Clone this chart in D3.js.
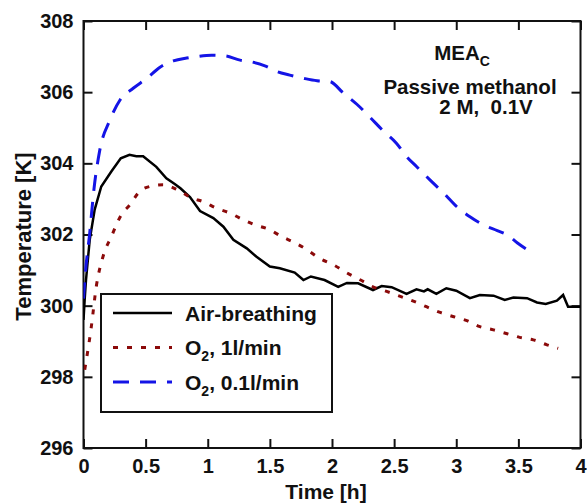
<!DOCTYPE html>
<html>
<head>
<meta charset="utf-8">
<script src="https://cdn.jsdelivr.net/npm/d3@7"></script>
<style>
  body { margin: 0; background: #fff; }
  svg text { font-family: "Liberation Sans", Arial, sans-serif; font-weight: bold; fill: #111; }
</style>
</head>
<body>
<div id="chart-area"></div>
<script>
const xTicks = [0, 0.5, 1, 1.5, 2, 2.5, 3, 3.5, 4];
const xTickLabels = ['0', '0.5', '1', '1.5', '2', '2.5', '3', '3.5', '4'];
const yTicks = [296, 298, 300, 302, 304, 306, 308];

const airTime = [0, 0.01, 0.02, 0.05, 0.09, 0.143, 0.224, 0.30, 0.37, 0.425, 0.48, 0.586, 0.667, 0.734, 0.78, 0.857, 0.938, 1.045, 1.126, 1.206, 1.314, 1.39, 1.50, 1.58, 1.70, 1.77, 1.83, 1.94, 2.05, 2.12, 2.21, 2.33, 2.40, 2.48, 2.60, 2.68, 2.74, 2.77, 2.84, 2.92, 3.00, 3.11, 3.19, 3.30, 3.39, 3.46, 3.57, 3.65, 3.72, 3.81, 3.86, 3.90, 4.00];
const airTemp = [299.6, 300.2, 300.72, 301.85, 302.7, 303.35, 303.77, 304.14, 304.24, 304.2, 304.2, 303.9, 303.58, 303.42, 303.3, 303.05, 302.66, 302.46, 302.22, 301.85, 301.61, 301.38, 301.1, 301.05, 300.93, 300.72, 300.82, 300.72, 300.53, 300.64, 300.63, 300.44, 300.55, 300.52, 300.33, 300.46, 300.40, 300.46, 300.33, 300.49, 300.42, 300.21, 300.30, 300.28, 300.16, 300.23, 300.21, 300.09, 300.05, 300.14, 300.30, 299.97, 299.97];

const o2HighTime = [0.01, 0.063, 0.103, 0.157, 0.224, 0.304, 0.372, 0.452, 0.533, 0.64, 0.76, 0.868, 0.965, 1.07, 1.18, 1.287, 1.38, 1.488, 1.596, 1.70, 1.80, 1.90, 2.01, 2.12, 2.23, 2.33, 2.44, 2.55, 2.66, 2.76, 2.87, 2.98, 3.085, 3.19, 3.30, 3.41, 3.51, 3.62, 3.73, 3.82];
const o2HighTemp = [298.2, 299.41, 300.54, 301.38, 301.94, 302.55, 302.83, 303.21, 303.35, 303.4, 303.25, 303.03, 302.92, 302.74, 302.6, 302.41, 302.27, 302.15, 301.94, 301.77, 301.57, 301.33, 301.15, 300.92, 300.72, 300.53, 300.4, 300.26, 300.12, 299.97, 299.81, 299.69, 299.58, 299.41, 299.32, 299.21, 299.11, 299.04, 298.9, 298.8];

const o2LowTime = [0, 0.015, 0.05, 0.085, 0.13, 0.213, 0.294, 0.40, 0.51, 0.616, 0.723, 0.83, 0.91, 1.03, 1.14, 1.26, 1.34, 1.46, 1.556, 1.66, 1.77, 1.88, 1.98, 2.09, 2.20, 2.31, 2.41, 2.52, 2.60, 2.68, 2.79, 2.90, 3.005, 3.11, 3.22, 3.33, 3.41, 3.49, 3.595];
const o2LowTemp = [300.2, 300.91, 302.04, 303.3, 304.35, 305.22, 305.78, 306.11, 306.39, 306.7, 306.88, 306.96, 307.0, 307.04, 307.02, 306.9, 306.86, 306.74, 306.58, 306.48, 306.39, 306.32, 306.3, 305.98, 305.66, 305.28, 304.92, 304.56, 304.19, 303.91, 303.53, 303.16, 302.78, 302.5, 302.27, 302.11, 301.99, 301.77, 301.52];

const chartSize = { width: 587, height: 504 };
const margin = { left: 83.5, right: 6.5, top: 21, bottom: 56 };
const width = chartSize.width - margin.left - margin.right;
const height = chartSize.height - margin.top - margin.bottom;

const series = [
  { name: 'air', time: airTime, temp: airTemp, color: '#000', dash: null, width: 2.5, curve: d3.curveLinear },
  { name: 'o2high', time: o2HighTime, temp: o2HighTemp, color: '#8b0a0a', dash: '5,9', width: 3, curve: d3.curveMonotoneX },
  { name: 'o2low', time: o2LowTime, temp: o2LowTemp, color: '#1414e6', dash: '16,11', width: 3, curve: d3.curveMonotoneX }
];

const svg = d3.select('#chart-area').append('svg')
  .attr('width', chartSize.width)
  .attr('height', chartSize.height);

const g = svg.append('g')
  .attr('transform', `translate(${margin.left},${margin.top})`);

const x = d3.scaleLinear().domain([0, 4]).range([0, width]);
const y = d3.scaleLinear().domain([296, 308]).range([height, 0]);

const styleAxis = sel => {
  sel.select('.domain').remove();
  sel.selectAll('.tick line').attr('stroke', '#111').attr('stroke-width', 2);
  sel.selectAll('.tick text').style('font-size', '20px');
};

g.append('g')
  .attr('transform', `translate(0,${height})`)
  .call(d3.axisBottom(x).tickValues(xTicks).tickFormat((d, i) => xTickLabels[i]).tickSizeInner(-9).tickSizeOuter(0).tickPadding(11))
  .call(styleAxis);

g.append('g')
  .call(d3.axisTop(x).tickValues(xTicks).tickFormat('').tickSizeInner(-9).tickSizeOuter(0))
  .call(styleAxis);

g.append('g')
  .call(d3.axisLeft(y).tickValues(yTicks).tickFormat(d3.format('d')).tickSizeInner(-9).tickSizeOuter(0).tickPadding(10))
  .call(styleAxis);

g.append('g')
  .attr('transform', `translate(${width},0)`)
  .call(d3.axisRight(y).tickValues(yTicks).tickFormat('').tickSizeInner(-9).tickSizeOuter(0))
  .call(styleAxis);

g.append('rect')
  .attr('width', width)
  .attr('height', height)
  .attr('fill', 'none')
  .attr('stroke', '#111')
  .attr('stroke-width', 2);

g.append('clipPath').attr('id', 'plot-clip')
  .append('rect').attr('width', width).attr('height', height);

series.forEach(s => {
  const line = d3.line().curve(s.curve).x(t => x(t)).y((t, i) => y(s.temp[i]));
  g.append('path')
    .attr('class', s.name)
    .attr('clip-path', 'url(#plot-clip)')
    .attr('d', line(s.time))
    .attr('fill', 'none')
    .attr('stroke', s.color)
    .attr('stroke-width', s.width)
    .attr('stroke-dasharray', s.dash);
});

// axis titles
g.append('text')
  .attr('x', width / 2 - 6)
  .attr('y', height + 51)
  .attr('text-anchor', 'middle')
  .style('font-size', '21px')
  .text('Time [h]');

g.append('text')
  .attr('transform', `translate(${31 - margin.left},${height / 2 + 2}) rotate(-90)`)
  .attr('text-anchor', 'middle')
  .style('font-size', '22px')
  .text('Temperature [K]');

// annotation: one multi-line text block
const note = g.append('text')
  .attr('class', 'note')
  .attr('text-anchor', 'middle')
  .attr('xml:space', 'preserve')
  .style('font-size', '20.5px');
note.append('tspan').attr('x', 462 - margin.left).attr('y', 60 - margin.top).text('MEA');
note.append('tspan').attr('dy', 6).style('font-size', '14px').text('C');
note.append('tspan').attr('x', 470 - margin.left).attr('y', 94 - margin.top).text('Passive methanol');
note.append('tspan').attr('x', 486 - margin.left).attr('y', 113.5 - margin.top).text('2 M,  0.1V');

// legend
const legend = g.append('g')
  .attr('transform', `translate(${101 - margin.left},${294 - margin.top})`);

legend.append('rect')
  .attr('width', 231)
  .attr('height', 118)
  .attr('fill', '#fff')
  .attr('stroke', '#111')
  .attr('stroke-width', 2);

const legendRows = [
  { s: series[0], label: ['Air-breathing'] },
  { s: series[1], label: ['O', '2', ', 1l/min'] },
  { s: series[2], label: ['O', '2', ', 0.1l/min'] }
];

legendRows.forEach((r, i) => {
  const cy = 19 + i * 34.5;
  legend.append('line')
    .attr('x1', 12).attr('x2', 71)
    .attr('y1', cy).attr('y2', cy)
    .attr('stroke', r.s.color)
    .attr('stroke-width', r.s.width)
    .attr('stroke-dasharray', r.s.dash);
  const t = legend.append('text')
    .attr('x', 84)
    .attr('y', cy + 7.5)
    .style('font-size', '21px');
  t.append('tspan').text(r.label[0]);
  if (r.label.length > 1) {
    t.append('tspan').attr('dy', 6).style('font-size', '14px').text(r.label[1]);
    t.append('tspan').attr('dy', -6).text(r.label[2]);
  }
});
</script>
</body>
</html>
